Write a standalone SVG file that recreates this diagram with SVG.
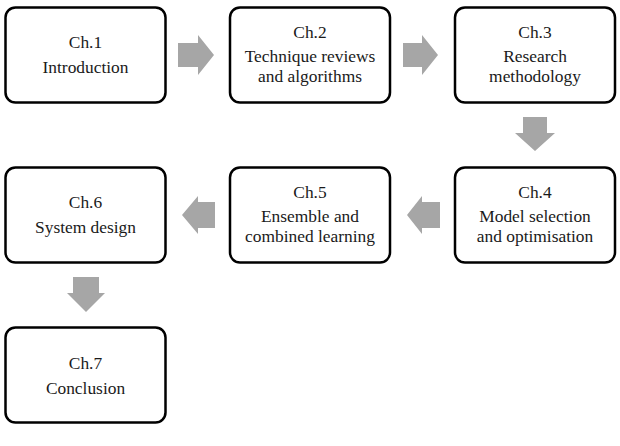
<svg xmlns="http://www.w3.org/2000/svg" width="620" height="446" viewBox="0 0 620 446">
<style>
.box{fill:#fff;stroke:#000;stroke-width:2.5}
.t{font-family:'Liberation Serif','DejaVu Serif','Times New Roman',serif;font-size:17.4px;fill:#1a1a1a;text-anchor:middle}
.arr{fill:#a6a6a6}
</style>
<rect width="620" height="446" fill="#fff"/>
<g id="ch1"><rect class="box" x="5.5" y="7.5" width="160" height="95" rx="10"/><text class="t" x="85.5" y="48">Ch.1</text><text class="t" x="85.5" y="73">Introduction</text></g>
<g id="ch2"><rect class="box" x="230" y="7.5" width="160" height="95" rx="10"/><text class="t" x="310" y="38">Ch.2</text><text class="t" x="310" y="62">Technique reviews</text><text class="t" x="310" y="82">and algorithms</text></g>
<g id="ch3"><rect class="box" x="455" y="7.5" width="160" height="95" rx="10"/><text class="t" x="535" y="38">Ch.3</text><text class="t" x="535" y="62">Research</text><text class="t" x="535" y="82">methodology</text></g>
<g id="ch4"><rect class="box" x="455" y="167.5" width="160" height="95" rx="10"/><text class="t" x="535" y="198">Ch.4</text><text class="t" x="535" y="222">Model selection</text><text class="t" x="535" y="242">and optimisation</text></g>
<g id="ch5"><rect class="box" x="230" y="167.5" width="160" height="95" rx="10"/><text class="t" x="310" y="198">Ch.5</text><text class="t" x="310" y="222">Ensemble and</text><text class="t" x="310" y="242">combined learning</text></g>
<g id="ch6"><rect class="box" x="5.5" y="167.5" width="160" height="95" rx="10"/><text class="t" x="85.5" y="208">Ch.6</text><text class="t" x="85.5" y="233">System design</text></g>
<g id="ch7"><rect class="box" x="5.5" y="327.5" width="160" height="95" rx="10"/><text class="t" x="85.5" y="369">Ch.7</text><text class="t" x="85.5" y="394">Conclusion</text></g>
<g id="connectors">
<polygon class="arr" points="178,43 198,43 198,35 214,55 198,75 198,67 178,67"/>
<polygon class="arr" points="403,43 422,43 422,35 438,55 422,75 422,67 403,67"/>
<polygon class="arr" points="523,117 547,117 547,133 555,133 535,151 515,133 523,133"/>
<polygon class="arr" points="440,202 422,202 422,196 407,215 422,234 422,228 440,228"/>
<polygon class="arr" points="215,202 198,202 198,196 182,215 198,234 198,228 215,228"/>
<polygon class="arr" points="73,277 99,277 99,293 105,293 86,312 67,293 73,293"/>
</g>
</svg>
